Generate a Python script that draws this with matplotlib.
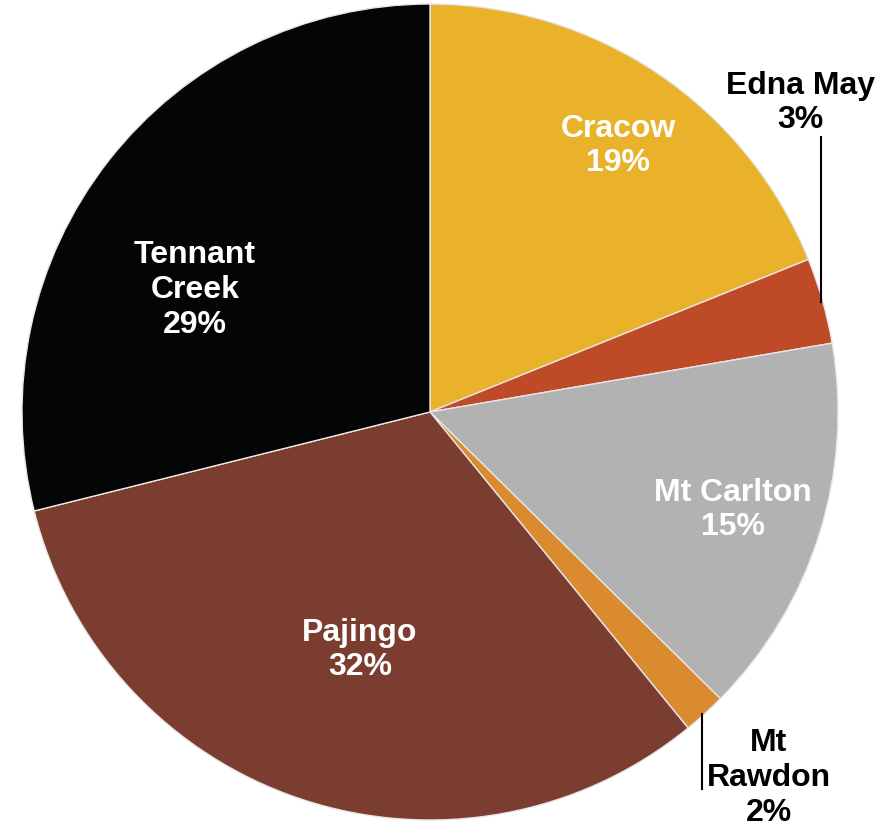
import matplotlib
matplotlib.use("Agg")
import matplotlib.pyplot as plt

categories = ["Cracow", "Edna May", "Mt Carlton", "Mt Rawdon", "Pajingo", "Tennant Creek"]
values = [18.9, 3.4, 15.1, 1.7, 32.0, 28.9]
pct_labels = ["19%", "3%", "15%", "2%", "32%", "29%"]
colors = ["#E9B22A", "#BF4A28", "#B2B2B2", "#DA8B2F", "#7B3D30", "#050505"]

W, H = 889, 829
fig = plt.figure(figsize=(W / 100, H / 100), dpi=100)
ax = fig.add_axes([0, 0, 1, 1])

cx, cy, R = 430, H - 413, 408
wedges, _ = ax.pie(values, colors=colors, startangle=90, counterclock=False,
                   center=(cx, cy), radius=R,
                   wedgeprops=dict(edgecolor="#E6E6E6", linewidth=1.0))
ax.set_xlim(0, W)
ax.set_ylim(0, H)
ax.set_aspect("equal")
ax.axis("off")

font = dict(family=["Liberation Sans", "DejaVu Sans"], fontweight="bold", fontsize=23,
            ha="center", va="center", linespacing=1.2)

def lab(i):
    name = categories[i].replace("Tennant Creek", "Tennant\nCreek").replace("Mt Rawdon", "Mt\nRawdon")
    return name + "\n" + pct_labels[i]

# (x, y in image pixels from top, text colour)
pos = [(618, 146, "white"), (800, 103, "black"), (733, 510, "white"),
       (769, 778, "black"), (360, 650, "white"), (195, 290, "white")]
for i, (x, y, c) in enumerate(pos):
    ax.text(x, H - y, lab(i), color=c, **font)

# leader lines
ax.plot([821, 821], [H - 138, H - 303], color="black", lw=1.5)
ax.plot([702, 702], [H - 715, H - 790], color="black", lw=1.5)

fig.savefig("out.png", dpi=100)
